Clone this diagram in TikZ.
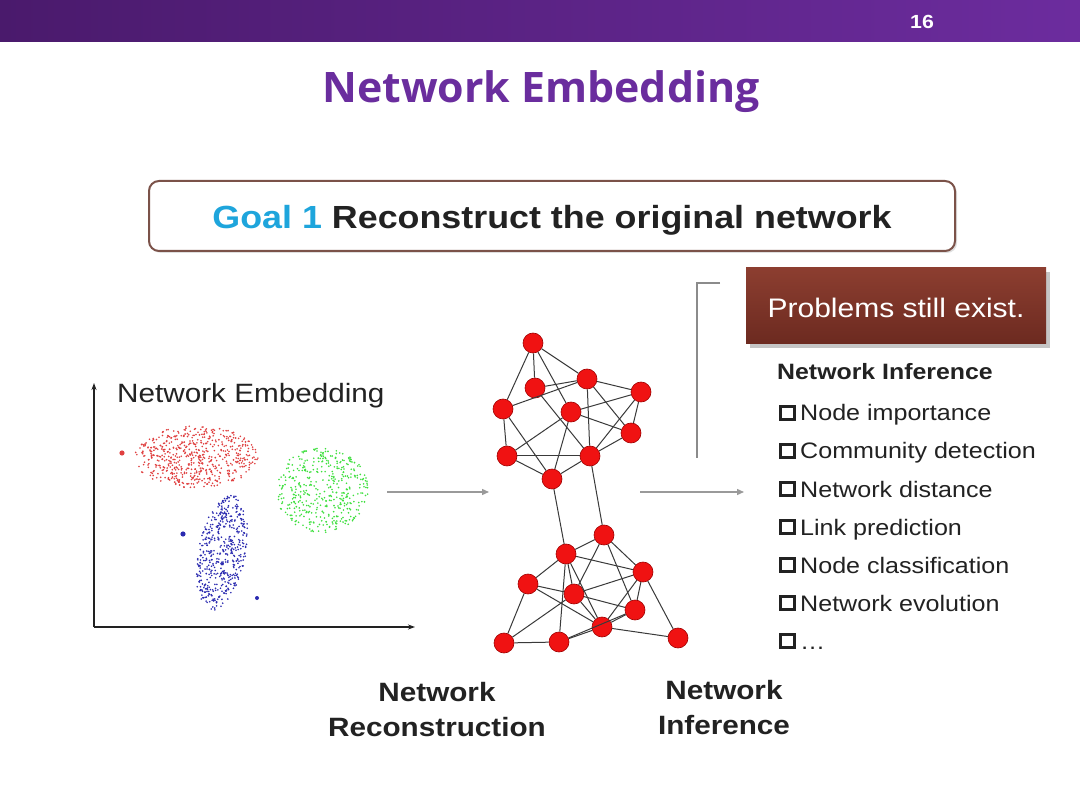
\documentclass[tikz,border=0pt]{standalone}
\usepackage{fontspec}
\setmainfont{Liberation Sans}[FakeStretch=1.12]
\newfontfamily\titlefont{Open Sans}[FakeStretch=1.02]
\usetikzlibrary{shadows,arrows.meta}
\definecolor{barL}{HTML}{4A1A6C}
\definecolor{barR}{HTML}{6C2C9E}
\definecolor{titlepurple}{HTML}{6A2D9E}
\definecolor{goalblue}{HTML}{1EA5DC}
\definecolor{goalborder}{HTML}{7B5249}
\definecolor{probtop}{HTML}{8C3E30}
\definecolor{probbot}{HTML}{6C2A20}
\definecolor{txt}{HTML}{222222}
\definecolor{netred}{HTML}{F01212}
\definecolor{netborder}{HTML}{A00000}
\definecolor{edgec}{HTML}{3A3A3A}
\definecolor{dotred}{HTML}{E04040}
\definecolor{dotgreen}{HTML}{3EE03E}
\definecolor{dotblue}{HTML}{2A2AB0}
\definecolor{arrowgray}{HTML}{9A9A9A}
\newcommand{\qbox}{\raisebox{2.8pt}{\setlength{\fboxsep}{0pt}\setlength{\fboxrule}{2.8pt}\fbox{\rule{0pt}{10.6pt}\hspace{11.4pt}}}\hspace{4pt}}
\tikzset{
  netnode/.style={circle, fill=netred, draw=netborder, line width=0.6pt, inner sep=0pt, minimum size=20pt},
  netedge/.style={draw=edgec, line width=1pt},
  flowarrow/.style={draw=arrowgray, line width=1.3pt, -{Triangle[length=7pt,width=6pt]}},
  axisline/.style={draw=txt, line width=1.3pt, -{Stealth[length=7pt,width=5pt]}},
  listitem/.style={anchor=base west, inner sep=0pt, text=txt, font=\fontsize{22.4}{26}\selectfont},
  bottomlabel/.style={align=center, text=txt, font=\bfseries\fontsize{26.5}{35}\selectfont, inner sep=0pt}
}
\begin{document}
\begin{tikzpicture}[x=1pt,y=-1pt]
\useasboundingbox (0,0) rectangle (1080,810);
\fill[white] (0,0) rectangle (1080,810);
% top bar
\shade[left color=barL, right color=barR] (0,0) rectangle (1080,42);
\node[text=white, inner sep=0pt] (pnum) at (922,22) {\bfseries\fontsize{19}{19}\selectfont 16};
% title
\node[anchor=base, text=titlepurple, inner sep=0pt] (title) at (541,103) {\titlefont\bfseries\fontsize{42}{48}\selectfont Network Embedding};
% goal box
\node[draw=goalborder, line width=2pt, rounded corners=10pt, fill=white, minimum width=806pt, minimum height=70pt, inner sep=0pt,
  drop shadow={shadow xshift=2pt, shadow yshift=-2pt, opacity=0.25}] (goal) at (552,216) {};
\node[anchor=base, inner sep=0pt] (goaltext) at (552,229)
  {\bfseries\fontsize{32}{36}\selectfont\textcolor{goalblue}{Goal 1} \textcolor{txt}{Reconstruct the original network}};
% problems box
\node[top color=probtop, bottom color=probbot, minimum width=300pt, minimum height=76pt, inner sep=0pt,
  drop shadow={shadow xshift=4pt, shadow yshift=-4pt, opacity=0.45}] (prob) at (896,306) {};
\node[anchor=base, inner sep=0pt, text=white] (probtext) at (896,318) {\fontsize{26.8}{30}\selectfont Problems still exist.};
% bracket
\draw[draw=arrowgray!90!black, line width=2pt] (720,283) -- (697,283) -- (697,458);
% axes
\coordinate (orig) at (94,627);
\coordinate (ytop) at (94,383);
\coordinate (xend) at (415,627);
\draw[axisline] (orig) -- (ytop);
\draw[axisline] (orig) -- (xend);
\node[anchor=base west, inner sep=0pt, text=txt] (emblabel) at (117,403) {\fontsize{26.5}{30}\selectfont Network Embedding};
% scatter
\pgfmathsetseed{11}
\foreach \k in {1,...,600}{
  \pgfmathsetmacro\ang{rnd*360}
  \pgfmathsetmacro\rr{sqrt(rnd)}
  \fill[dotred] ({196+62*\rr*cos(\ang)},{457+31*\rr*sin(\ang)}) circle[radius=0.9pt];
}
\foreach \k in {1,...,430}{
  \pgfmathsetmacro\ang{rnd*360}
  \pgfmathsetmacro\rr{sqrt(rnd)}
  \fill[dotgreen] ({322+46*\rr*cos(\ang)},{490+43*\rr*sin(\ang)}) circle[radius=0.9pt];
}
\foreach \k in {1,...,500}{
  \pgfmathsetmacro\ang{rnd*360}
  \pgfmathsetmacro\rr{sqrt(rnd)}
  \fill[dotblue] ({222+24*\rr*cos(\ang)-9*\rr*sin(\ang)},{553+58*\rr*sin(\ang)}) circle[radius=0.9pt];
}
\fill[dotred] (122,453) circle[radius=2.6pt];
\fill[dotblue] (183,534) circle[radius=2.6pt];
\fill[dotblue] (257,598) circle[radius=2pt];
% flow arrows
\coordinate (a1s) at (387,492);
\coordinate (a1e) at (489,492);
\coordinate (a2s) at (640,492);
\coordinate (a2e) at (744,492);
\draw[flowarrow] (a1s) -- (a1e);
\draw[flowarrow] (a2s) -- (a2e);
% network nodes (upper)
\node[netnode] (na) at (533,343) {};
\node[netnode] (nb) at (535,388) {};
\node[netnode] (nc) at (587,379) {};
\node[netnode] (nd) at (641,392) {};
\node[netnode] (ne) at (503,409) {};
\node[netnode] (nf) at (571,412) {};
\node[netnode] (ng) at (631,433) {};
\node[netnode] (nh) at (507,456) {};
\node[netnode] (ni) at (590,456) {};
\node[netnode] (nj) at (552,479) {};
% network nodes (lower)
\node[netnode] (nk) at (566,554) {};
\node[netnode] (nl) at (604,535) {};
\node[netnode] (nm) at (643,572) {};
\node[netnode] (nn) at (528,584) {};
\node[netnode] (no) at (574,594) {};
\node[netnode] (np) at (635,610) {};
\node[netnode] (nq) at (602,627) {};
\node[netnode] (nr) at (504,643) {};
\node[netnode] (ns) at (559,642) {};
\node[netnode] (nt) at (678,638) {};
% edges
\foreach \u/\v in {na/nb,na/nc,na/ne,na/nf,nb/nc,ne/nc,nb/ni,nc/nd,nc/ni,nc/ng,nd/nf,nd/ng,nd/ni,nf/ng,nf/nh,nf/nj,ne/nh,ne/nj,nh/ni,nh/nj,nj/ni,ng/ni,
  nj/nk,ni/nl,
  nk/nl,nk/nn,nk/nm,nk/no,nk/ns,nk/nq,nl/no,nl/nm,nl/np,nn/no,nn/nr,nn/nq,no/nm,no/np,no/nq,nm/np,nm/nq,nm/nt,nr/ns,nr/no,ns/nq,ns/np,nq/nt,nq/np}
  \draw[netedge] (\u) -- (\v);
% list
\node[anchor=base west, inner sep=0pt, text=txt] (lhead) at (777,380) {\bfseries\fontsize{22.2}{26}\selectfont Network Inference};
\node[listitem] (l1) at (779,421) {\qbox Node importance};
\node[listitem] (l2) at (779,459) {\qbox Community detection};
\node[listitem] (l3) at (779,497) {\qbox Network distance};
\node[listitem] (l4) at (779,535) {\qbox Link prediction};
\node[listitem] (l5) at (779,573) {\qbox Node classification};
\node[listitem] (l6) at (779,611) {\qbox Network evolution};
\node[listitem] (l7) at (779,649) {\qbox \dots};
% bottom labels
\node[bottomlabel, anchor=north] (recon) at (437,682) {Network\\Reconstruction};
\node[bottomlabel, anchor=north] (infer) at (724,680) {Network\\Inference};
\end{tikzpicture}
\end{document}
